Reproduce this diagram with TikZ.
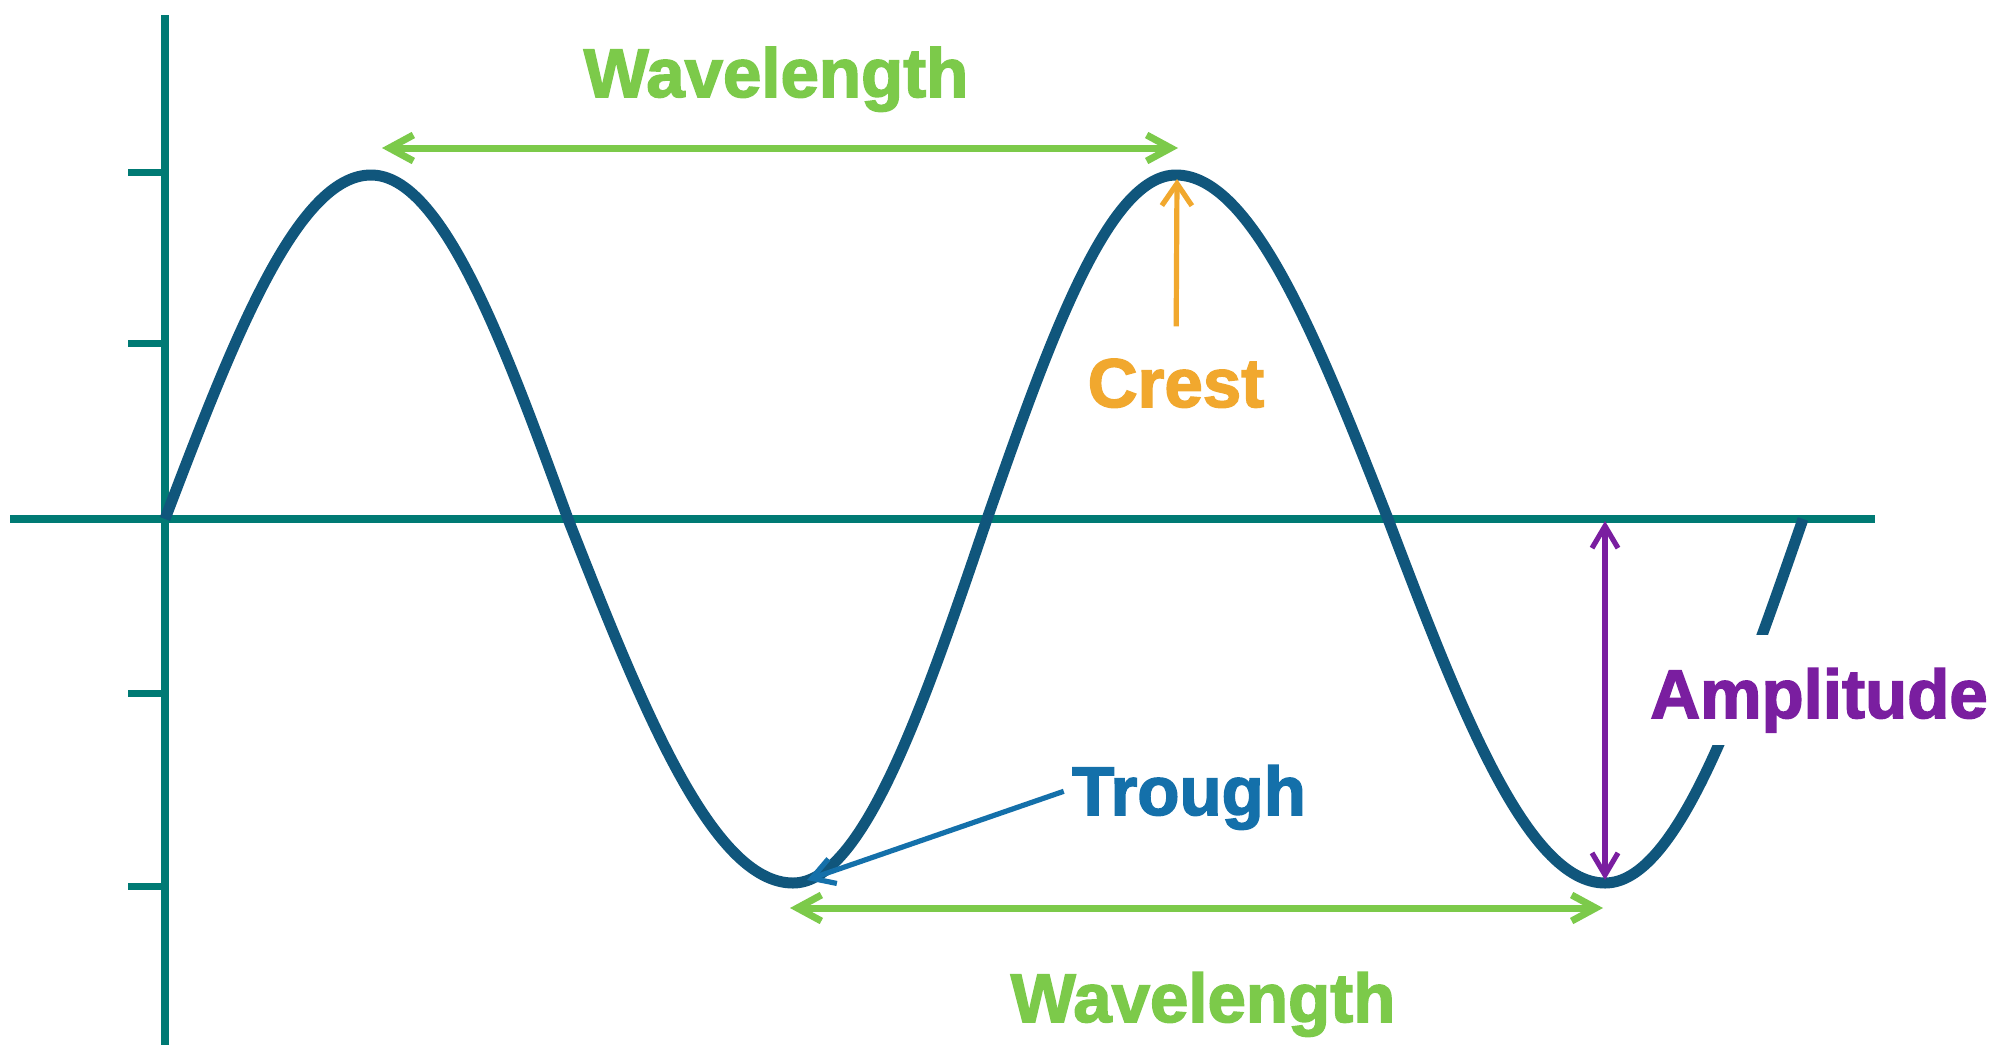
\documentclass[tikz,border=0pt]{standalone}
\usepackage{fontspec}
\setmainfont{Liberation Sans}
\newfontfamily\lblfont{Liberation Sans}[UprightFont={* Bold}, FakeBold=2.2]
\usetikzlibrary{arrows.meta}
\definecolor{axisc}{RGB}{0,122,116}
\definecolor{wavec}{RGB}{16,86,124}
\definecolor{greenc}{RGB}{124,202,74}
\definecolor{crestc}{RGB}{241,168,46}
\definecolor{troughc}{RGB}{20,112,170}
\definecolor{ampc}{RGB}{122,30,160}
\begin{document}
\begin{tikzpicture}[x=0.5pt,y=-0.5pt,
  lbl/.style={font=\lblfont\fontsize{34.5}{40}\selectfont, inner sep=0pt, anchor=base},
  axisline/.style={draw=axisc, line width=4pt},
  tickline/.style={draw=axisc, line width=3.5pt},
  waveline/.style={draw=wavec, line width=5.5pt, line join=round},
  greenarrow/.style={draw=greenc, line width=3.5pt, {Straight Barb[length=12pt,width=13pt]}-{Straight Barb[length=12pt,width=13pt]}},
  crestarrow/.style={draw=crestc, line width=2.6pt, -{Straight Barb[length=11pt,width=15pt]}},
  trougharrow/.style={draw=troughc, line width=2.6pt, -{Straight Barb[length=11pt,width=13pt]}},
  amparrow/.style={draw=ampc, line width=2.6pt, {Straight Barb[length=11pt,width=13pt]}-{Straight Barb[length=11pt,width=13pt]}}
]
\useasboundingbox (0,0) rectangle (2008,1045);
\fill[white] (0,0) rectangle (2008,1045);

% axes
\coordinate (ytop) at (165,15);
\coordinate (ybot) at (165,1045);
\coordinate (xl) at (10,519);
\coordinate (xr) at (1875,519);
\draw[axisline] (ytop) -- (ybot);
\draw[axisline] (xl) -- (xr);
\foreach \ty in {172,343,693,886}{
  \draw[tickline] (128,\ty) -- (165,\ty);
}

% wave key points
\coordinate (Z0) at (165,519);
\coordinate (P1) at (371,175);
\coordinate (Z1) at (568,519);
\coordinate (T1) at (793,883);
\coordinate (Z2) at (987,519);
\coordinate (P2) at (1176,175);
\coordinate (Z3) at (1388,519);
\coordinate (T2) at (1605,883);
\coordinate (Z4) at (1803,519);

\draw[waveline] (Z0)
  .. controls (232.2,342.7) and (296.5,175) .. (P1)
  .. controls (442.2,175) and (503.7,342.7) .. (Z1)
  .. controls (641.4,705.6) and (711.7,883) .. (T1)
  .. controls (863.1,883) and (923.7,705.5) .. (Z2)
  .. controls (1048.7,342.7) and (1107.7,175) .. (P2)
  .. controls (1252.6,175) and (1318.8,342.7) .. (Z3)
  .. controls (1458.8,705.6) and (1526.6,883) .. (T2)
  .. controls (1676.6,883) and (1738.4,705.5) .. (Z4);

% gap in the wave behind the Amplitude label
\fill[white] (1690,635) rectangle (1800,745);

% top wavelength
\coordinate (wlA) at (382,148);
\coordinate (wlB) at (1178,148);
\draw[greenarrow] (wlA) -- (wlB);
\node[lbl, text=greenc] (wltop) at (776,97) {Wavelength};

% bottom wavelength
\coordinate (wlC) at (790,908);
\coordinate (wlD) at (1603,908);
\draw[greenarrow] (wlC) -- (wlD);
\node[lbl, text=greenc] (wlbot) at (1203,1022) {Wavelength};

% crest
\node[lbl, text=crestc] (crest) at (1176,407) {Crest};
\coordinate (crestTip) at (1177,179);
\draw[crestarrow, shorten <=16pt] (crest.north) -- (crestTip);

% trough
\node[lbl, text=troughc, inner xsep=4pt] (trough) at (1189,815) {Trough};
\coordinate (troughTip) at (807,880);
\draw[trougharrow] ([yshift=3pt]trough.west) -- (troughTip);

% amplitude
\coordinate (ampTop) at (1605,521);
\coordinate (ampBot) at (1605,880);
\draw[amparrow] (ampTop) -- (ampBot);
\node[lbl, text=ampc] (amp) at (1819,718) {Amplitude};
\end{tikzpicture}
\end{document}
